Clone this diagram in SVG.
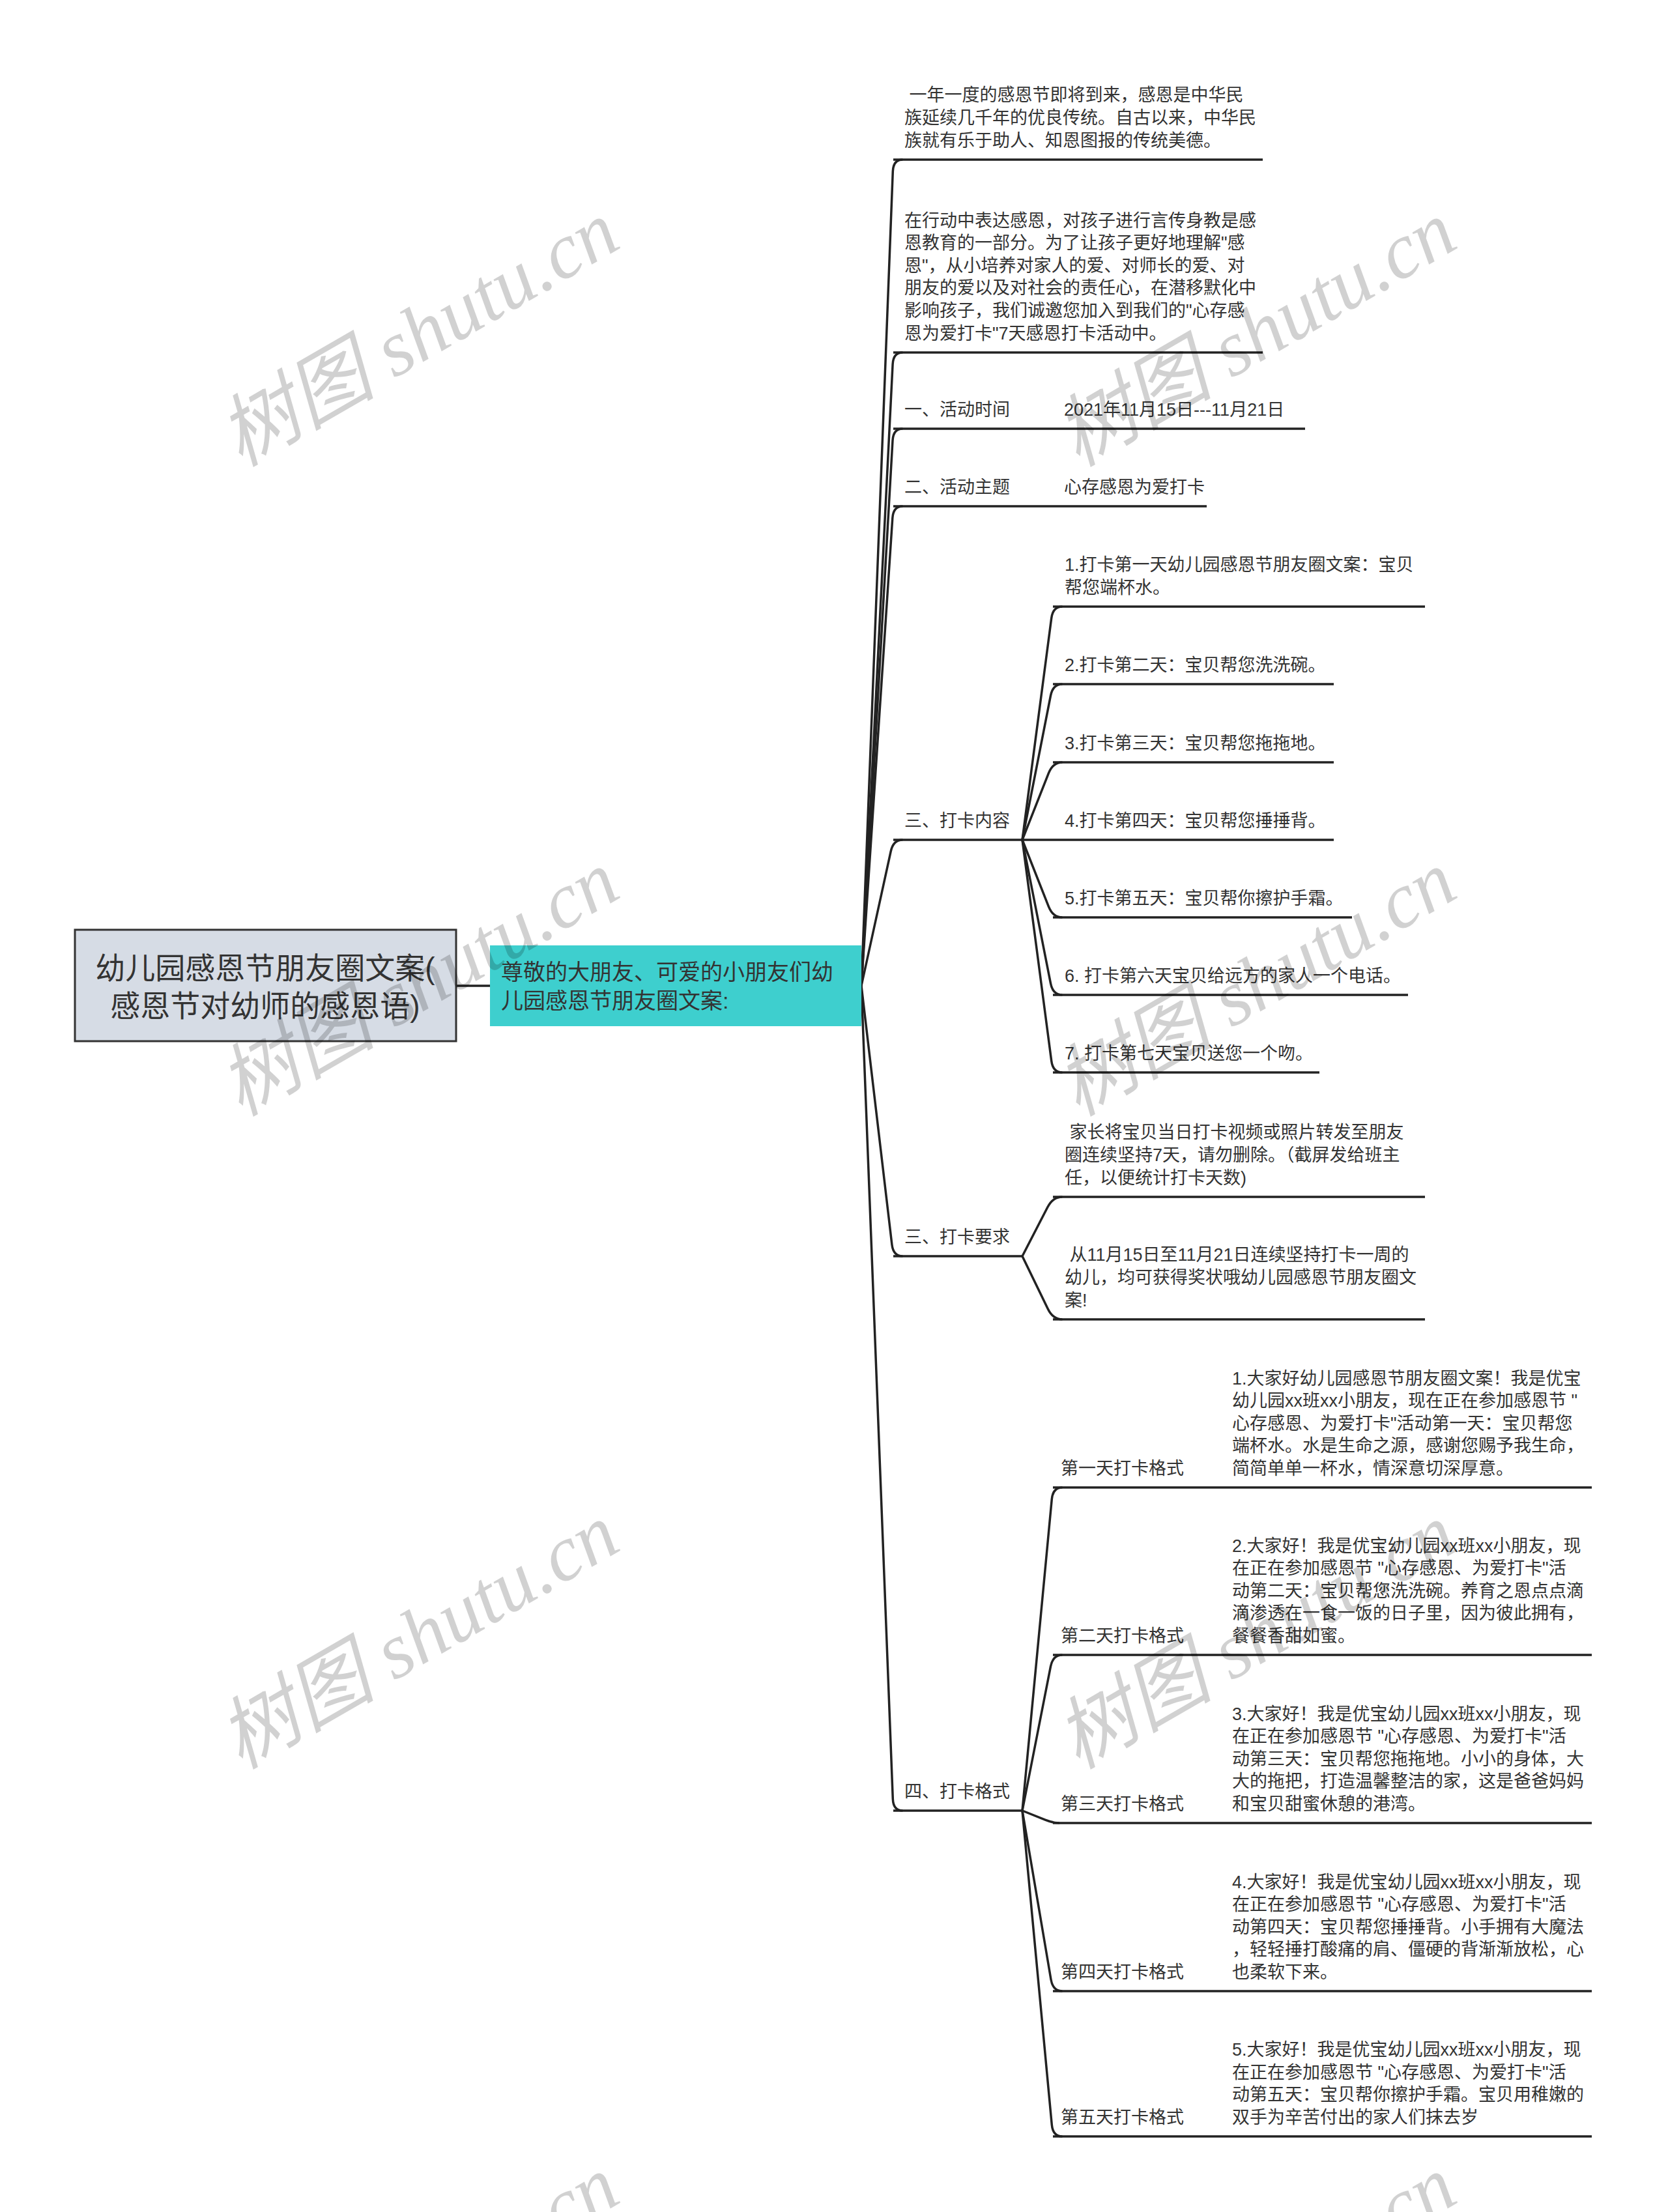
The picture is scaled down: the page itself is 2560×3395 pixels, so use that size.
<svg xmlns="http://www.w3.org/2000/svg" width="2560" height="3395" viewBox="0 0 2560 3395">
<style>
.t{font-family:"Liberation Sans","Noto Sans CJK SC",sans-serif;font-size:27px;fill:#333}
.ul{stroke:#222;stroke-width:3.5;fill:none}
.c{stroke:#222;stroke-width:3.5;fill:none;stroke-linejoin:round}
.wm{font-family:"Liberation Serif","Noto Sans CJK SC",serif;font-style:italic;font-size:121px;fill:#000;fill-opacity:0.18}
</style>
<rect x="0" y="0" width="2560" height="3395" fill="#fff"/>
<g id="connectors">
<path class="c" d="M700,1513 L752,1513"/>
<path class="c" d="M1322,1513 L1370.3,263 Q1371,245 1385.4,245"/>
<path class="c" d="M1322,1513 L1370.1,559 Q1371,541 1385.4,541"/>
<path class="c" d="M1322,1513 L1370,676 Q1371,658 1385.4,658"/>
<path class="c" d="M1322,1513 L1369.8,795 Q1371,777 1385.4,777"/>
<path class="c" d="M1322,1513 L1367.2,1306.6 Q1371,1289 1385.4,1289"/>
<path class="c" d="M1322,1513 L1368.9,1910.1 Q1371,1928 1385.4,1928"/>
<path class="c" d="M1322,1513 L1370.3,2761 Q1371,2779 1385.4,2779"/>
<path class="c" d="M1569,658 L1616,658"/>
<path class="c" d="M1569,777 L1616,777"/>
<path class="c" d="M1569,1289 L1613.7,948.8 Q1616,931 1630.4,931"/>
<path class="c" d="M1569,1289 L1612.5,1067.7 Q1616,1050 1630.4,1050"/>
<path class="c" d="M1569,1289 L1609.4,1186.7 Q1616,1170 1630.4,1170"/>
<path class="c" d="M1569,1289 L1616,1289"/>
<path class="c" d="M1569,1289 L1609.4,1391.3 Q1616,1408 1630.4,1408"/>
<path class="c" d="M1569,1289 L1612.5,1509.3 Q1616,1527 1630.4,1527"/>
<path class="c" d="M1569,1289 L1613.7,1628.2 Q1616,1646 1630.4,1646"/>
<path class="c" d="M1569,1928 L1607.7,1853 Q1616,1837 1630.4,1837"/>
<path class="c" d="M1569,1928 L1608.2,2008.8 Q1616,2025 1630.4,2025"/>
<path class="c" d="M1569,2779 L1614.3,2300.9 Q1616,2283 1630.4,2283"/>
<path class="c" d="M1569,2779 L1612.5,2557.7 Q1616,2540 1630.4,2540"/>
<path class="c" d="M1569,2779 L1604.2,2793.2 Q1616,2798 1626.2,2798"/>
<path class="c" d="M1569,2779 L1613,3038.3 Q1616,3056 1630.4,3056"/>
<path class="c" d="M1569,2779 L1614.3,3261.1 Q1616,3279 1630.4,3279"/>
<path class="c" d="M1840,2283 L1873,2283"/>
<path class="c" d="M1840,2540 L1873,2540"/>
<path class="c" d="M1840,2798 L1873,2798"/>
<path class="c" d="M1840,3056 L1873,3056"/>
<path class="c" d="M1840,3279 L1873,3279"/>
</g>
<g id="root">
<rect x="115" y="1427" width="585" height="171" fill="#d6dce5" stroke="#333" stroke-width="3"/>
<text class="t" x="407" y="1502" text-anchor="middle" style="font-size:46px">幼儿园感恩节朋友圈文案(</text>
<text class="t" x="407" y="1560" text-anchor="middle" style="font-size:46px">感恩节对幼师的感恩语)</text>
</g>
<g id="n1">
<rect x="752" y="1451" width="570" height="124" fill="#3ecfce"/>
<text class="t" x="769" y="1504" style="font-size:34px">尊敬的大朋友、可爱的小朋友们幼</text>
<text class="t" x="769" y="1548" style="font-size:34px">儿园感恩节朋友圈文案:</text>
</g>
<g id="nA">
<text class="t" x="1388" y="155" xml:space="preserve"> 一年一度的感恩节即将到来，感恩是中华民</text>
<text class="t" x="1388" y="190">族延续几千年的优良传统。自古以来，中华民</text>
<text class="t" x="1388" y="225">族就有乐于助人、知恩图报的传统美德。</text>
<path class="ul" d="M1371,245 H1938"/>
</g>
<g id="nB">
<text class="t" x="1388" y="348">在行动中表达感恩，对孩子进行言传身教是感</text>
<text class="t" x="1388" y="382">恩教育的一部分。为了让孩子更好地理解"感</text>
<text class="t" x="1388" y="417">恩"，从小培养对家人的爱、对师长的爱、对</text>
<text class="t" x="1388" y="451">朋友的爱以及对社会的责任心，在潜移默化中</text>
<text class="t" x="1388" y="486">影响孩子，我们诚邀您加入到我们的"心存感</text>
<text class="t" x="1388" y="521">恩为爱打卡"7天感恩打卡活动中。</text>
<path class="ul" d="M1371,541 H1938"/>
</g>
<g id="nC">
<text class="t" x="1388" y="638">一、活动时间</text>
<path class="ul" d="M1371,658 H1569"/>
</g>
<g id="nC1">
<text class="t" x="1633" y="638">2021年11月15日---11月21日</text>
<path class="ul" d="M1616,658 H2003"/>
</g>
<g id="nD">
<text class="t" x="1388" y="757">二、活动主题</text>
<path class="ul" d="M1371,777 H1569"/>
</g>
<g id="nD1">
<text class="t" x="1633" y="757">心存感恩为爱打卡</text>
<path class="ul" d="M1616,777 H1852"/>
</g>
<g id="nE">
<text class="t" x="1388" y="1269">三、打卡内容</text>
<path class="ul" d="M1371,1289 H1569"/>
</g>
<g id="nE1">
<text class="t" x="1634" y="876">1.打卡第一天幼儿园感恩节朋友圈文案：宝贝</text>
<text class="t" x="1634" y="911">帮您端杯水。</text>
<path class="ul" d="M1616,931 H2187"/>
</g>
<g id="nE2">
<text class="t" x="1634" y="1030">2.打卡第二天：宝贝帮您洗洗碗。</text>
<path class="ul" d="M1616,1050 H2047"/>
</g>
<g id="nE3">
<text class="t" x="1634" y="1150">3.打卡第三天：宝贝帮您拖拖地。</text>
<path class="ul" d="M1616,1170 H2047"/>
</g>
<g id="nE4">
<text class="t" x="1634" y="1269">4.打卡第四天：宝贝帮您捶捶背。</text>
<path class="ul" d="M1616,1289 H2047"/>
</g>
<g id="nE5">
<text class="t" x="1634" y="1388">5.打卡第五天：宝贝帮你擦护手霜。</text>
<path class="ul" d="M1616,1408 H2075"/>
</g>
<g id="nE6">
<text class="t" x="1634" y="1507">6. 打卡第六天宝贝给远方的家人一个电话。</text>
<path class="ul" d="M1616,1527 H2161"/>
</g>
<g id="nE7">
<text class="t" x="1634" y="1626">7. 打卡第七天宝贝送您一个吻。</text>
<path class="ul" d="M1616,1646 H2025"/>
</g>
<g id="nF">
<text class="t" x="1388" y="1908">三、打卡要求</text>
<path class="ul" d="M1371,1928 H1569"/>
</g>
<g id="nF1">
<text class="t" x="1634" y="1747" xml:space="preserve"> 家长将宝贝当日打卡视频或照片转发至朋友</text>
<text class="t" x="1634" y="1782">圈连续坚持7天，请勿删除。（截屏发给班主</text>
<text class="t" x="1634" y="1817">任，以便统计打卡天数)</text>
<path class="ul" d="M1616,1837 H2187"/>
</g>
<g id="nF2">
<text class="t" x="1634" y="1935" xml:space="preserve"> 从11月15日至11月21日连续坚持打卡一周的</text>
<text class="t" x="1634" y="1970">幼儿，均可获得奖状哦幼儿园感恩节朋友圈文</text>
<text class="t" x="1634" y="2005">案!</text>
<path class="ul" d="M1616,2025 H2187"/>
</g>
<g id="nG">
<text class="t" x="1388" y="2759">四、打卡格式</text>
<path class="ul" d="M1371,2779 H1569"/>
</g>
<g id="nG1">
<text class="t" x="1628" y="2263">第一天打卡格式</text>
<path class="ul" d="M1616,2283 H1840"/>
</g>
<g id="nG1c">
<text class="t" x="1891" y="2125">1.大家好幼儿园感恩节朋友圈文案！我是优宝</text>
<text class="t" x="1891" y="2159">幼儿园xx班xx小朋友，现在正在参加感恩节 "</text>
<text class="t" x="1891" y="2194">心存感恩、为爱打卡"活动第一天：宝贝帮您</text>
<text class="t" x="1891" y="2228">端杯水。水是生命之源，感谢您赐予我生命，</text>
<text class="t" x="1891" y="2263">简简单单一杯水，情深意切深厚意。</text>
<path class="ul" d="M1873,2283 H2443"/>
</g>
<g id="nG2">
<text class="t" x="1628" y="2520">第二天打卡格式</text>
<path class="ul" d="M1616,2540 H1840"/>
</g>
<g id="nG2c">
<text class="t" x="1891" y="2382">2.大家好！我是优宝幼儿园xx班xx小朋友，现</text>
<text class="t" x="1891" y="2416">在正在参加感恩节 "心存感恩、为爱打卡"活</text>
<text class="t" x="1891" y="2451">动第二天：宝贝帮您洗洗碗。养育之恩点点滴</text>
<text class="t" x="1891" y="2485">滴渗透在一食一饭的日子里，因为彼此拥有，</text>
<text class="t" x="1891" y="2520">餐餐香甜如蜜。</text>
<path class="ul" d="M1873,2540 H2443"/>
</g>
<g id="nG3">
<text class="t" x="1628" y="2778">第三天打卡格式</text>
<path class="ul" d="M1616,2798 H1840"/>
</g>
<g id="nG3c">
<text class="t" x="1891" y="2640">3.大家好！我是优宝幼儿园xx班xx小朋友，现</text>
<text class="t" x="1891" y="2674">在正在参加感恩节 "心存感恩、为爱打卡"活</text>
<text class="t" x="1891" y="2709">动第三天：宝贝帮您拖拖地。小小的身体，大</text>
<text class="t" x="1891" y="2743">大的拖把，打造温馨整洁的家，这是爸爸妈妈</text>
<text class="t" x="1891" y="2778">和宝贝甜蜜休憩的港湾。</text>
<path class="ul" d="M1873,2798 H2443"/>
</g>
<g id="nG4">
<text class="t" x="1628" y="3036">第四天打卡格式</text>
<path class="ul" d="M1616,3056 H1840"/>
</g>
<g id="nG4c">
<text class="t" x="1891" y="2898">4.大家好！我是优宝幼儿园xx班xx小朋友，现</text>
<text class="t" x="1891" y="2932">在正在参加感恩节 "心存感恩、为爱打卡"活</text>
<text class="t" x="1891" y="2967">动第四天：宝贝帮您捶捶背。小手拥有大魔法</text>
<text class="t" x="1891" y="3001">，轻轻捶打酸痛的肩、僵硬的背渐渐放松，心</text>
<text class="t" x="1891" y="3036">也柔软下来。</text>
<path class="ul" d="M1873,3056 H2443"/>
</g>
<g id="nG5">
<text class="t" x="1628" y="3259">第五天打卡格式</text>
<path class="ul" d="M1616,3279 H1840"/>
</g>
<g id="nG5c">
<text class="t" x="1891" y="3155">5.大家好！我是优宝幼儿园xx班xx小朋友，现</text>
<text class="t" x="1891" y="3190">在正在参加感恩节 "心存感恩、为爱打卡"活</text>
<text class="t" x="1891" y="3224">动第五天：宝贝帮你擦护手霜。宝贝用稚嫩的</text>
<text class="t" x="1891" y="3259">双手为辛苦付出的家人们抹去岁</text>
<path class="ul" d="M1873,3279 H2443"/>
</g>
<g id="watermarks">
<text class="wm" x="643" y="553" text-anchor="middle" transform="rotate(-30 643 513)">树图 shutu.cn</text>
<text class="wm" x="1928" y="553" text-anchor="middle" transform="rotate(-30 1928 513)">树图 shutu.cn</text>
<text class="wm" x="643" y="1550" text-anchor="middle" transform="rotate(-30 643 1510)">树图 shutu.cn</text>
<text class="wm" x="1928" y="1550" text-anchor="middle" transform="rotate(-30 1928 1510)">树图 shutu.cn</text>
<text class="wm" x="643" y="2552" text-anchor="middle" transform="rotate(-30 643 2512)">树图 shutu.cn</text>
<text class="wm" x="1928" y="2552" text-anchor="middle" transform="rotate(-30 1928 2512)">树图 shutu.cn</text>
<text class="wm" x="643" y="3553" text-anchor="middle" transform="rotate(-30 643 3513)">树图 shutu.cn</text>
<text class="wm" x="1928" y="3553" text-anchor="middle" transform="rotate(-30 1928 3513)">树图 shutu.cn</text>
</g>
</svg>
